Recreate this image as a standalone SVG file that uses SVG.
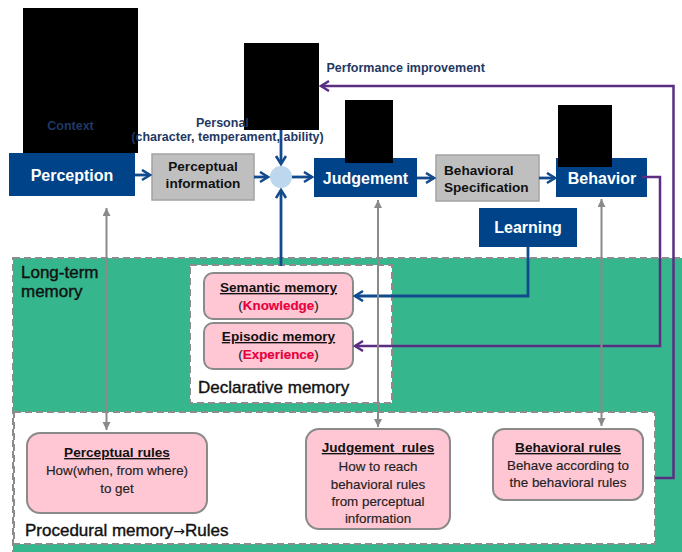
<svg xmlns="http://www.w3.org/2000/svg" width="682" height="552" viewBox="0 0 682 552">
<style>
text{font-family:"Liberation Sans",Arial,sans-serif}
.bb{fill:#004388}
.bt{fill:#fff;font-weight:bold;font-size:16px;text-anchor:middle}
.gb{fill:#bfbfbf;stroke:#a3a3a3;stroke-width:1.5}
.gt{fill:#111;font-weight:bold;font-size:13.6px}
.pk{fill:#ffc6d3;stroke:#8a8a8a;stroke-width:2}
.pt{fill:#222;font-size:13.4px;text-anchor:middle;stroke:#222;stroke-width:0.15}
.ph{fill:#111;font-size:13.6px;font-weight:bold;text-anchor:middle;text-decoration:underline}
.red{fill:#e8003d;stroke:#e8003d;font-weight:bold}
.lab{fill:#111;font-size:17px;stroke:#111;stroke-width:0.4}
.nv{fill:#1f3864;font-size:12.5px;font-weight:bold}
.dash{stroke:#8c8c8c;stroke-width:2;stroke-dasharray:7 4}
.ba{stroke:#124b8d;stroke-width:2.8;fill:none}
.pa{stroke:#5b2e83;stroke-width:2.5;fill:none}
.ga{stroke:#8a8a8a;stroke-width:2;fill:none}
</style>
<defs>
<marker id="hb" markerUnits="userSpaceOnUse" markerWidth="12" markerHeight="14" refX="9" refY="6" orient="auto"><path d="M1,1 L9,6 L1,11" fill="none" stroke="#124b8d" stroke-width="2.6"/></marker>
<marker id="hp" markerUnits="userSpaceOnUse" markerWidth="12" markerHeight="14" refX="9" refY="6" orient="auto"><path d="M1,1 L9,6 L1,11" fill="none" stroke="#5b2e83" stroke-width="2.5"/></marker>
<marker id="hg" markerUnits="userSpaceOnUse" markerWidth="10" markerHeight="10" refX="8" refY="4" orient="auto-start-reverse"><path d="M0,0 L8,4 L0,8 z" fill="#8a8a8a"/></marker>
</defs>

<g id="long-term-memory">
<rect x="13" y="258" width="680" height="300" fill="#35b68c" class="dash"/>
<text class="lab" x="21" y="278">Long-term</text>
<text class="lab" x="21" y="297">memory</text>
</g>

<g id="declarative-memory">
<rect x="190" y="265" width="202" height="138" fill="#fff" class="dash"/>
<text class="lab" x="198" y="393">Declarative memory</text>
</g>

<g id="procedural-memory">
<rect x="14" y="412" width="641" height="132" fill="#fff" class="dash"/>
<text class="lab" x="25" y="536">Procedural memory<tspan stroke-width="0" font-family="'DejaVu Sans',sans-serif" font-size="14">→</tspan>Rules</text>
</g>

<g id="semantic-memory">
<rect class="pk" x="204" y="273" width="149" height="46" rx="9"/>
<text class="ph" x="278.5" y="292">Semantic memory</text>
<text class="pt" x="278.5" y="310">(<tspan class="red">Knowledge</tspan>)</text>
</g>

<g id="episodic-memory">
<rect class="pk" x="204" y="323" width="149" height="46" rx="9"/>
<text class="ph" x="278.5" y="341">Episodic memory</text>
<text class="pt" x="278.5" y="359">(<tspan class="red">Experience</tspan>)</text>
</g>

<g id="perceptual-rules">
<rect class="pk" x="27" y="433" width="180" height="80" rx="13"/>
<text class="ph" x="117" y="457">Perceptual rules</text>
<text class="pt" x="117" y="475">How(when, from where)</text>
<text class="pt" x="117" y="493">to get</text>
</g>

<g id="judgement-rules">
<rect class="pk" x="306" y="429" width="144" height="100" rx="13"/>
<text class="ph" x="378" y="452" xml:space="preserve">Judgement  rules</text>
<text class="pt" x="378" y="471">How to reach</text>
<text class="pt" x="378" y="488.5">behavioral rules</text>
<text class="pt" x="378" y="506">from perceptual</text>
<text class="pt" x="378" y="523">information</text>
</g>

<g id="behavioral-rules">
<rect class="pk" x="493" y="429" width="150" height="71" rx="11"/>
<text class="ph" x="568" y="452">Behavioral rules</text>
<text class="pt" x="568" y="469.5">Behave according to</text>
<text class="pt" x="568" y="487">the behavioral rules</text>
</g>

<g id="perception">
<rect class="bb" x="9" y="153" width="126" height="43"/>
<text class="bt" x="72" y="181">Perception</text>
</g>

<g id="perceptual-information">
<rect class="gb" x="152" y="154" width="102" height="46"/>
<text class="gt" x="203" y="171" text-anchor="middle">Perceptual</text>
<text class="gt" x="203" y="188" text-anchor="middle">information</text>
</g>

<g id="merge">
<circle cx="281" cy="177" r="11" fill="#bdd7ee"/>
</g>

<g id="judgement">
<rect class="bb" x="314" y="158" width="103" height="39"/>
<text class="bt" x="365.5" y="184">Judgement</text>
</g>

<g id="behavioral-specification">
<rect class="gb" x="436" y="155" width="103" height="46"/>
<text class="gt" x="444" y="175">Behavioral</text>
<text class="gt" x="444" y="192">Specification</text>
</g>

<g id="behavior">
<rect class="bb" x="556" y="158" width="91" height="39"/>
<text class="bt" x="602" y="184">Behavior</text>
</g>

<g id="learning">
<rect class="bb" x="479" y="208" width="98" height="39"/>
<text class="bt" x="528" y="233">Learning</text>
</g>

<g id="connectors">
<path class="ba" d="M135,175 H150" marker-end="url(#hb)"/>
<path class="ba" d="M254,177 H268" marker-end="url(#hb)"/>
<path class="ba" d="M292,177 H312" marker-end="url(#hb)"/>
<path class="ba" d="M417,178 H434" marker-end="url(#hb)"/>
<path class="ba" d="M539,178 H555" marker-end="url(#hb)"/>
<path class="ba" d="M281,130 V164" marker-end="url(#hb)"/>
<path class="ba" d="M281,266 V190" marker-end="url(#hb)"/>
<path class="ba" d="M68,133 V151" stroke-width="2.2" marker-end="url(#hb)"/>
<path class="ba" d="M528,247 V296 H355" stroke-width="2.5" marker-end="url(#hb)"/>
<path class="pa" d="M642,177 H660 V346 H355" marker-end="url(#hp)"/>
<path class="pa" d="M655,478 H673.5 V86 H321" marker-end="url(#hp)"/>
<path class="ga" d="M106.5,208 V430" marker-start="url(#hg)" marker-end="url(#hg)"/>
<path class="ga" d="M378,200 V427" marker-start="url(#hg)" marker-end="url(#hg)"/>
<path class="ga" d="M601.5,199 V426" marker-start="url(#hg)" marker-end="url(#hg)"/>
</g>

<g id="redactions">
<rect x="23" y="8" width="115" height="145" fill="#000"/>
<rect x="244" y="43" width="75" height="87" fill="#000"/>
<rect x="345" y="100" width="48" height="63" fill="#000"/>
<rect x="558" y="105" width="54" height="62" fill="#000"/>
</g>

<g id="labels">
<text class="nv" x="70.5" y="130" text-anchor="middle">Context</text>
<text class="nv" x="196" y="126.5">Personal</text>
<text class="nv" x="227.5" y="141" text-anchor="middle">(character, temperament, ability)</text>
<text class="nv" x="326.5" y="72">Performance improvement</text>
</g>
</svg>
